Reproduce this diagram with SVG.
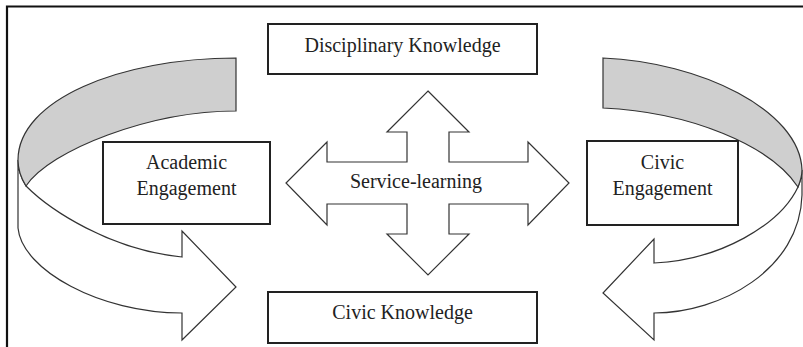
<svg xmlns="http://www.w3.org/2000/svg" width="803" height="347" viewBox="0 0 803 347">
<style>
.box{fill:#fff;stroke:#222;stroke-width:2}
.lbl{font-family:"Liberation Serif","Times New Roman",serif;font-size:20px;fill:#222;text-anchor:middle}
.rib{fill:#fff;stroke:#333;stroke-width:1.2;stroke-linejoin:miter}
.back{fill:#cfcfcf;stroke:#333;stroke-width:1.2}
.cross{fill:#fff;stroke:#333;stroke-width:1.2}
</style>
<rect width="803" height="347" fill="#fff"/>
<path d="M7,347 V6.5 H803" fill="none" stroke="#111" stroke-width="2.2"/>
<g id="connectors">
  <g id="left-cycle">
    <path class="rib" d="M18,160 L18,228 C22,270 100,313 182,313 L182,340 L236,287 L182,231 L182,257 C110,250 50,210 26,186 C21,178 18,170 18,160 Z"/>
    <path class="back" d="M236,58 C120,58 18,100 18,160 C18,170 21,178 26,186 C50,150 150,111 236,111 Z"/>
  </g>
  <g id="right-cycle">
    <path class="rib" d="M802,170 L802,195 C800,270 720,313 654,313 L654,340 L603,293 L654,239 L654,263 C720,260 780,225 798,187 C800,182 802,176 802,170 Z"/>
    <path class="back" d="M603,58 C700,62 800,110 802,170 C802,176 800,182 798,187 C770,145 690,112 603,108 Z"/>
  </g>
</g>
<g id="service-learning">
  <polygon class="cross" points="428,91 469,132 449,132 449,162 528,162 528,142 569,183 528,225 528,204 449,204 449,234 469,234 428,275 387,234 407,234 407,204 327,204 327,225 286,183 327,142 327,162 407,162 407,132 387,132"/>
  <text class="lbl" x="416" y="188">Service-learning</text>
</g>
<g id="disciplinary-knowledge">
  <rect class="box" x="268" y="24" width="269" height="50"/>
  <text class="lbl" x="402.5" y="52">Disciplinary Knowledge</text>
</g>
<g id="civic-knowledge">
  <rect class="box" x="268" y="292" width="269" height="51"/>
  <text class="lbl" x="402.5" y="319">Civic Knowledge</text>
</g>
<g id="academic-engagement">
  <rect class="box" x="103" y="142" width="167" height="82"/>
  <text class="lbl" x="186.5" y="169">Academic</text>
  <text class="lbl" x="186.5" y="195">Engagement</text>
</g>
<g id="civic-engagement">
  <rect class="box" x="587" y="141" width="151" height="84"/>
  <text class="lbl" x="662.5" y="169">Civic</text>
  <text class="lbl" x="662.5" y="195">Engagement</text>
</g>
</svg>
